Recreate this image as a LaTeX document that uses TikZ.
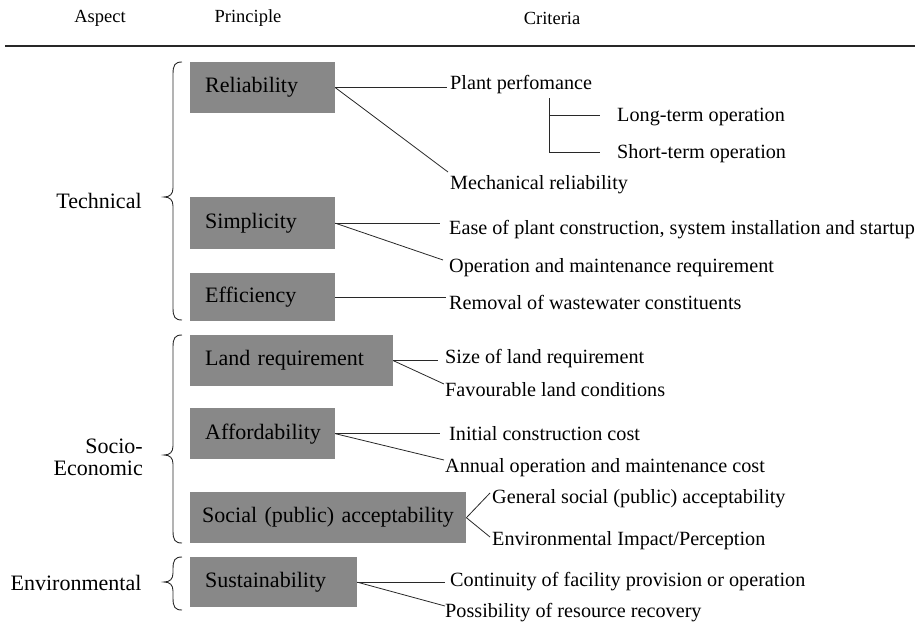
\documentclass[tikz,border=0pt]{standalone}
\usepackage{fontspec}
\setmainfont{Liberation Serif}
\definecolor{boxgray}{RGB}{136,136,136}
\definecolor{inkline}{RGB}{40,40,40}
\newcommand\headfont{\fontsize{18.5}{18.5}\selectfont}
\newcommand\bigfont{\fontsize{22}{22}\selectfont}
\newcommand\critfont{\fontsize{20.2}{20.2}\selectfont}
% curly brace on the left of a group of principles: top, tip, bottom
\newcommand\groupbrace[3]{%
  \draw[bracestyle] (182,#1) .. controls (175,#1) and (173,#1+3) .. (173,#1+12)
    -- (173,#2-9) .. controls (173,#2-3) and (170,#2) .. (164,#2)
    .. controls (170,#2) and (173,#2+3) .. (173,#2+9)
    -- (173,#3-12) .. controls (173,#3-3) and (175,#3) .. (182,#3);}
\begin{document}
\begin{tikzpicture}[x=1pt,y=-1pt,
  pbox/.style={fill=boxgray, anchor=north west, inner xsep=15pt, inner ysep=0pt,
    align=left, font=\bigfont, text=black},
  crit/.style={anchor=base west, inner sep=0pt, font=\critfont},
  head/.style={inner sep=0pt, font=\headfont},
  aspect/.style={inner sep=0pt, font=\bigfont},
  link/.style={draw=inkline, line width=0.8pt},
  bracestyle/.style={draw=inkline, line width=0.9pt}]
\useasboundingbox (0,0) rectangle (918,626);

% column headings and rule
\node[head] (hA) at (100,18) {Aspect};
\node[head] (hP) at (248,18) {Principle};
\node[head] (hC) at (552,18) {Criteria};
\coordinate (ruleL) at (5,46);
\coordinate (ruleR) at (915,46);
\draw[line width=1.3pt, draw=inkline] (ruleL) -- (ruleR);

% aspects
\node[aspect] (tech) at (99,201) {Technical};
\node[aspect, anchor=east, align=right] (socio) at (143,457) {Socio-\\Economic};
\node[aspect] (env) at (76,583) {Environmental};
\groupbrace{62}{197}{320}
\groupbrace{335}{455}{543}
\groupbrace{557}{582}{610}

% principles
\node[pbox, text width=115pt, minimum height=51pt] (rel) at (190,62) {Reliability};
\node[pbox, text width=115pt, minimum height=52pt] (sim) at (190,197) {Simplicity};
\node[pbox, text width=115pt, minimum height=48pt] (eff) at (190,273) {Efficiency};
\node[pbox, text width=173pt, minimum height=51pt] (land) at (190,335) {Land requirement};
\node[pbox, text width=115pt, minimum height=51pt] (aff) at (190,408) {Affordability};
\node[pbox, inner xsep=12pt, text width=252pt, minimum height=51pt] (soc) at (190,492) {\mbox{Social (public) acceptability}};
\node[pbox, text width=137pt, minimum height=50pt] (sus) at (190,557) {Sustainability};

% criteria (baselines)
\node[crit] (pp)  at (450,89.5)  {Plant perfomance};
\node[crit] (lto) at (617,121.5) {Long-term operation};
\node[crit] (sto) at (617,158.5) {Short-term operation};
\node[crit] (mr)  at (450,189.5) {Mechanical reliability};
\node[crit] (ease) at (449,234.5) {Ease of plant construction, system installation and startup};
\node[crit] (om)  at (449,272.5) {Operation and maintenance requirement};
\node[crit] (rem) at (449,309.5) {Removal of wastewater constituents};
\node[crit] (size) at (445,363.5) {Size of land requirement};
\node[crit] (fav) at (445,396.5) {Favourable land conditions};
\node[crit] (icc) at (449,440.5) {Initial construction cost};
\node[crit] (aom) at (445,472.5) {Annual operation and maintenance cost};
\node[crit] (gsa) at (492,503.5) {General social (public) acceptability};
\node[crit] (eip) at (492,545.5) {Environmental Impact/Perception};
\node[crit] (cfp) at (450,586.5) {Continuity of facility provision or operation};
\node[crit] (prr) at (445,617.5) {Possibility of resource recovery};

% connectors
\coordinate (pp-in) at (447,86);
\coordinate (mr-in) at (448,172);
\coordinate (split) at (549,98);
\draw[link] (rel.east) -- (rel.east -| pp-in);
\draw[link] (rel.east) -- (mr-in);
\draw[link] (split) |- ([xshift=-17pt,yshift=6pt]lto.base west);
\draw[link] (split) |- ([xshift=-17pt,yshift=6pt]sto.base west);

\coordinate (ease-in) at (440,227);
\coordinate (om-in) at (443,260);
\coordinate (rem-in) at (446,302);
\draw[link] (sim.east) -- (sim.east -| ease-in);
\draw[link] (sim.east) -- (om-in);
\draw[link] (eff.east) -- (eff.east -| rem-in);

\coordinate (size-in) at (438,358);
\coordinate (fav-in) at (444,384);
\coordinate (icc-in) at (440,434);
\coordinate (aom-in) at (444,460);
\draw[link] (land.east) -- (land.east -| size-in);
\draw[link] (land.east) -- (fav-in);
\draw[link] (aff.east) -- (aff.east -| icc-in);
\draw[link] (aff.east) -- (aom-in);

\coordinate (gsa-in) at (490,493);
\coordinate (eip-in) at (490,537);
\draw[link] (soc.east) -- (gsa-in);
\draw[link] (soc.east) -- (eip-in);

\coordinate (cfp-in) at (445,582);
\coordinate (prr-in) at (445,606);
\draw[link] (sus.east) -- (sus.east -| cfp-in);
\draw[link] (sus.east) -- (prr-in);
\end{tikzpicture}
\end{document}
